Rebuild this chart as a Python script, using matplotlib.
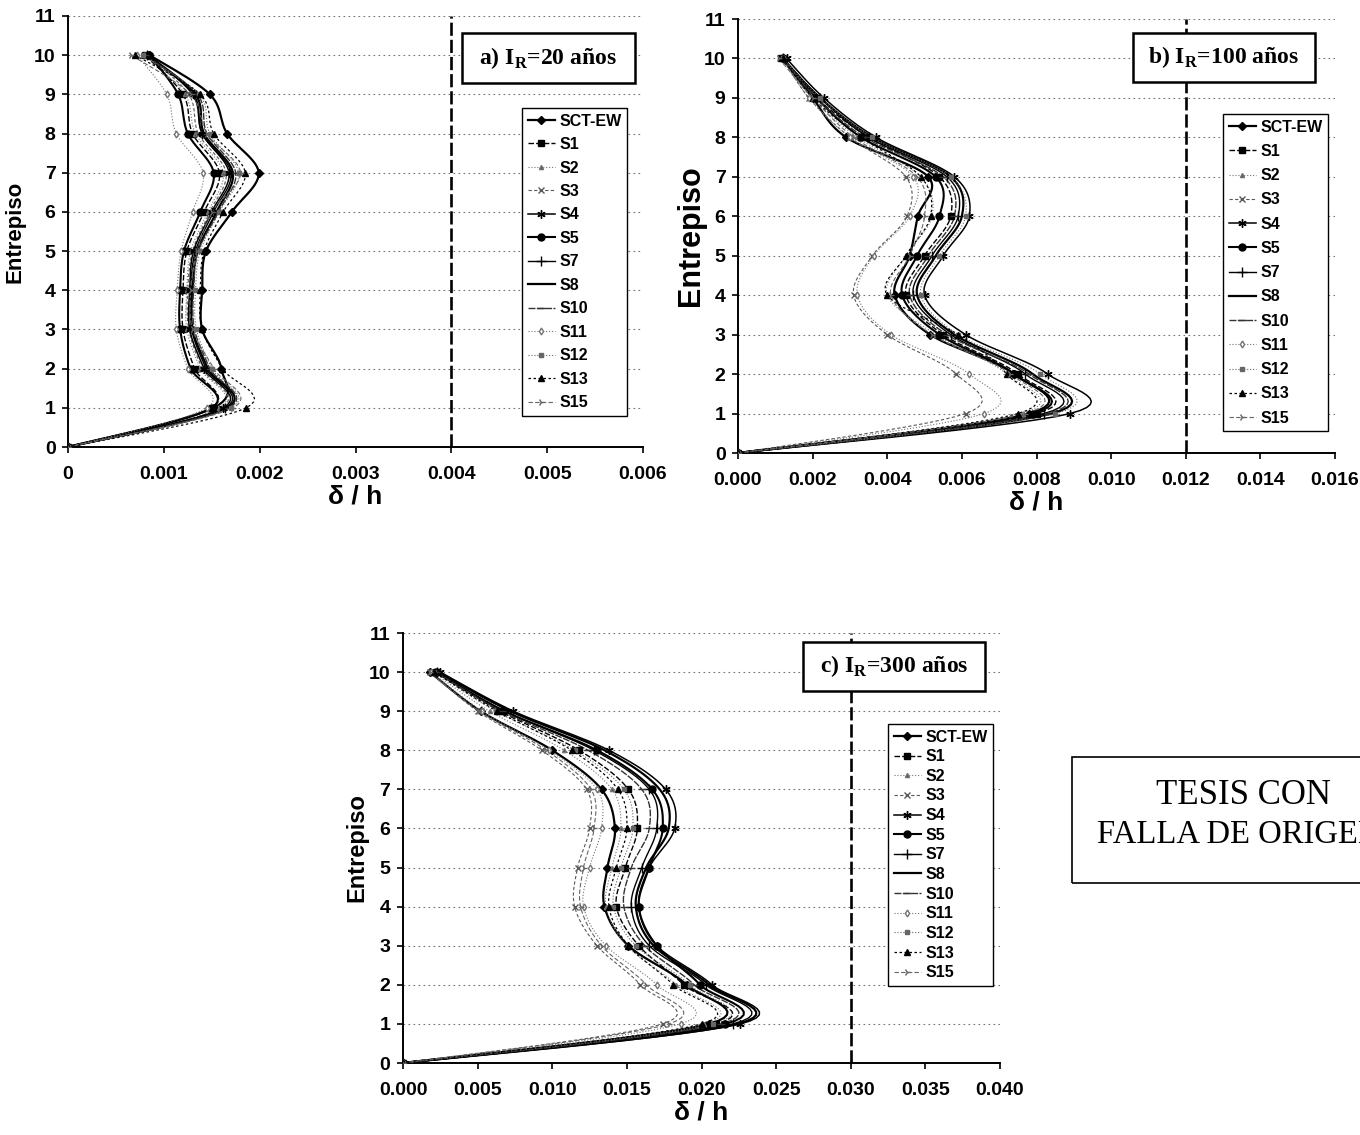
import numpy as np
import matplotlib
matplotlib.use("Agg")
import matplotlib.pyplot as plt
from matplotlib.patches import Rectangle
from matplotlib.lines import Line2D
from matplotlib.font_manager import FontProperties

W, H = 1360, 1135

series_names = ["SCT-EW", "S1", "S2", "S3", "S4", "S5", "S7", "S8",
                "S10", "S11", "S12", "S13", "S15"]
storeys = [0, 1, 2, 3, 4, 5, 6, 7, 8, 9, 10]
yticks = [0, 1, 2, 3, 4, 5, 6, 7, 8, 9, 10, 11]

# ---- a) IR = 20 años : drift ratio per storey (0..10)
a_SCT_EW = [0, 0.00152, 0.00160, 0.00140, 0.00140, 0.00144, 0.00171, 0.00199, 0.00166, 0.00148, 0.00085]
a_S1 = [0, 0.00150, 0.00132, 0.00120, 0.00120, 0.00124, 0.00142, 0.00158, 0.00130, 0.00120, 0.00080]
a_S2 = [0, 0.00158, 0.00138, 0.00124, 0.00124, 0.00128, 0.00146, 0.00162, 0.00133, 0.00122, 0.00080]
a_S3 = [0, 0.00160, 0.00140, 0.00126, 0.00125, 0.00130, 0.00148, 0.00165, 0.00136, 0.00126, 0.00082]
a_S4 = [0, 0.00162, 0.00142, 0.00127, 0.00127, 0.00131, 0.00150, 0.00168, 0.00140, 0.00130, 0.00084]
a_S5 = [0, 0.00150, 0.00128, 0.00117, 0.00117, 0.00121, 0.00138, 0.00152, 0.00125, 0.00115, 0.00085]
a_S7 = [0, 0.00164, 0.00144, 0.00129, 0.00128, 0.00133, 0.00152, 0.00170, 0.00140, 0.00131, 0.00082]
a_S8 = [0, 0.00166, 0.00146, 0.00130, 0.00130, 0.00135, 0.00155, 0.00172, 0.00142, 0.00133, 0.00083]
a_S10 = [0, 0.00168, 0.00148, 0.00132, 0.00131, 0.00136, 0.00157, 0.00175, 0.00145, 0.00135, 0.00080]
a_S11 = [0, 0.00145, 0.00125, 0.00113, 0.00114, 0.00118, 0.00130, 0.00141, 0.00113, 0.00103, 0.00072]
a_S12 = [0, 0.00170, 0.00150, 0.00134, 0.00133, 0.00138, 0.00158, 0.00178, 0.00148, 0.00137, 0.00078]
a_S13 = [0, 0.00186, 0.00161, 0.00140, 0.00138, 0.00142, 0.00162, 0.00185, 0.00152, 0.00138, 0.00070]
a_S15 = [0, 0.00172, 0.00152, 0.00130, 0.00128, 0.00135, 0.00150, 0.00180, 0.00145, 0.00128, 0.00066]

# ---- b) IR = 100 años
b_SCT_EW = [0, 0.0078, 0.0074, 0.00515, 0.0042, 0.0046, 0.00482, 0.0051, 0.0029, 0.0020, 0.0012]
b_S1 = [0, 0.0080, 0.0075, 0.0055, 0.0045, 0.0050, 0.0057, 0.0054, 0.0035, 0.0021, 0.00115]
b_S2 = [0, 0.0076, 0.0072, 0.0053, 0.0040, 0.0045, 0.0052, 0.0049, 0.0032, 0.0020, 0.0012]
b_S3 = [0, 0.0061, 0.00585, 0.0040, 0.0031, 0.0036, 0.00453, 0.0045, 0.0030, 0.0019, 0.0012]
b_S4 = [0, 0.0089, 0.0083, 0.0061, 0.0050, 0.0055, 0.0062, 0.0058, 0.0037, 0.0023, 0.0013]
b_S5 = [0, 0.0079, 0.0074, 0.0054, 0.0044, 0.0048, 0.0054, 0.0053, 0.0033, 0.0021, 0.0012]
b_S7 = [0, 0.0082, 0.0077, 0.0057, 0.0047, 0.0052, 0.0059, 0.0056, 0.0035, 0.0022, 0.0012]
b_S8 = [0, 0.0084, 0.0079, 0.0058, 0.0048, 0.0053, 0.0060, 0.0057, 0.0036, 0.0022, 0.0012]
b_S10 = [0, 0.0083, 0.0078, 0.0056, 0.0046, 0.0051, 0.0058, 0.0055, 0.0034, 0.0021, 0.0012]
b_S11 = [0, 0.0066, 0.0062, 0.0041, 0.0032, 0.00364, 0.0046, 0.0047, 0.0030, 0.0019, 0.0012]
b_S12 = [0, 0.0085, 0.0081, 0.0059, 0.0049, 0.0054, 0.0061, 0.0057, 0.0036, 0.0022, 0.0012]
b_S13 = [0, 0.0075, 0.0072, 0.0059, 0.0040, 0.0045, 0.00516, 0.0049, 0.0033, 0.0020, 0.0012]
b_S15 = [0, 0.0077, 0.0073, 0.0052, 0.0041, 0.0046, 0.0050, 0.0048, 0.0031, 0.0020, 0.0011]

# ---- c) IR = 300 años
c_SCT_EW = [0, 0.0205, 0.0190, 0.0151, 0.0135, 0.0137, 0.0142, 0.0133, 0.0100, 0.0052, 0.0018]
c_S1 = [0, 0.0210, 0.0188, 0.0158, 0.0143, 0.0149, 0.0157, 0.0151, 0.0118, 0.0065, 0.0022]
c_S2 = [0, 0.0202, 0.0183, 0.0150, 0.0136, 0.0140, 0.0146, 0.0140, 0.0108, 0.0058, 0.0020]
c_S3 = [0, 0.0174, 0.0159, 0.0130, 0.0115, 0.0117, 0.0125, 0.0123, 0.0093, 0.0050, 0.0018]
c_S4 = [0, 0.0226, 0.0207, 0.0170, 0.0158, 0.0165, 0.0182, 0.0176, 0.0138, 0.0074, 0.0025]
c_S5 = [0, 0.0216, 0.0199, 0.0170, 0.0158, 0.0165, 0.0174, 0.0167, 0.0130, 0.0068, 0.0022]
c_S7 = [0, 0.0221, 0.0203, 0.0165, 0.0153, 0.0160, 0.0170, 0.0165, 0.0128, 0.0068, 0.0023]
c_S8 = [0, 0.0224, 0.0205, 0.0168, 0.0156, 0.0163, 0.0178, 0.0172, 0.0135, 0.0072, 0.0024]
c_S10 = [0, 0.0213, 0.0195, 0.0162, 0.0148, 0.0153, 0.0165, 0.0160, 0.0124, 0.0066, 0.0022]
c_S11 = [0, 0.0186, 0.0170, 0.0136, 0.0121, 0.0125, 0.0133, 0.0130, 0.0098, 0.0053, 0.0019]
c_S12 = [0, 0.0208, 0.0192, 0.0156, 0.0141, 0.0146, 0.0154, 0.0148, 0.0115, 0.0062, 0.0021]
c_S13 = [0, 0.0200, 0.0181, 0.0151, 0.0138, 0.0143, 0.0150, 0.0144, 0.0113, 0.0063, 0.0021]
c_S15 = [0, 0.0178, 0.0163, 0.0133, 0.0119, 0.0121, 0.0128, 0.0126, 0.0096, 0.0051, 0.0018]

a_xticks = [0, 0.001, 0.002, 0.003, 0.004, 0.005, 0.006]
a_xlabels = ["0", "0.001", "0.002", "0.003", "0.004", "0.005", "0.006"]
b_xticks = [0, 0.002, 0.004, 0.006, 0.008, 0.010, 0.012, 0.014, 0.016]
b_xlabels = ["0.000", "0.002", "0.004", "0.006", "0.008", "0.010", "0.012", "0.014", "0.016"]
c_xticks = [0, 0.005, 0.010, 0.015, 0.020, 0.025, 0.030, 0.035, 0.040]
c_xlabels = ["0.000", "0.005", "0.010", "0.015", "0.020", "0.025", "0.030", "0.035", "0.040"]

limit_a = 0.004
limit_b = 0.012
limit_c = 0.030

title_a = "a) I$_\\mathregular{R}$=20 años"
title_b = "b) I$_\\mathregular{R}$=100 años"
title_c = "c) I$_\\mathregular{R}$=300 años"

panel_a = [a_SCT_EW, a_S1, a_S2, a_S3, a_S4, a_S5, a_S7, a_S8, a_S10, a_S11, a_S12, a_S13, a_S15]
panel_b = [b_SCT_EW, b_S1, b_S2, b_S3, b_S4, b_S5, b_S7, b_S8, b_S10, b_S11, b_S12, b_S13, b_S15]
panel_c = [c_SCT_EW, c_S1, c_S2, c_S3, c_S4, c_S5, c_S7, c_S8, c_S10, c_S11, c_S12, c_S13, c_S15]

# line / marker look of each record
styles = [
    dict(color="black", lw=1.6, ls="-", marker="D", ms=4.5, mfc="black"),
    dict(color="black", lw=1.0, ls=(0, (4, 1.5)), marker="s", ms=4.5, mfc="black"),
    dict(color="0.45", lw=0.8, ls=":", marker="^", ms=3, mfc="0.3"),
    dict(color="0.35", lw=0.8, ls=(0, (3, 2)), marker="x", ms=4.5, mfc="0.35"),
    dict(color="black", lw=1.1, ls="-", marker=(6, 2, 0), ms=6, mfc="black"),
    dict(color="black", lw=1.5, ls="-", marker="o", ms=5, mfc="black"),
    dict(color="black", lw=1.0, ls="-", marker="+", ms=7, mfc="black"),
    dict(color="black", lw=1.6, ls="-", marker="None", ms=0, mfc="black"),
    dict(color="0.2", lw=1.0, ls=(0, (5, 1)), marker="_", ms=6, mfc="0.2"),
    dict(color="0.45", lw=0.8, ls=":", marker="d", ms=3.5, mfc="white"),
    dict(color="0.4", lw=0.8, ls=":", marker="s", ms=3, mfc="0.4"),
    dict(color="black", lw=0.9, ls=(0, (2, 2)), marker="^", ms=5, mfc="black"),
    dict(color="0.4", lw=0.8, ls=(0, (4, 2)), marker="4", ms=5, mfc="0.4"),
]

SANS = "Liberation Sans"
SERIF = "Liberation Serif"


def smooth(x, y, n=14):
    """Bezier smoothing through the points (spreadsheet style)."""
    P = np.column_stack([x, y]).astype(float)
    out = []
    for i in range(len(P) - 1):
        p0 = P[i - 1] if i > 0 else P[i]
        p1, p2 = P[i], P[i + 1]
        p3 = P[i + 2] if i + 2 < len(P) else P[i + 1]
        c1 = p1 + (p2 - p0) / 6.0
        c2 = p2 - (p3 - p1) / 6.0
        t = np.linspace(0, 1, n)[:, None]
        seg = (1 - t) ** 3 * p1 + 3 * (1 - t) ** 2 * t * c1 + 3 * (1 - t) * t ** 2 * c2 + t ** 3 * p2
        out.append(seg if i == 0 else seg[1:])
    pts = np.vstack(out)
    return pts[:, 0], pts[:, 1]


def px_rect(x0, y0, x1, y1):
    return [x0 / W, 1 - y1 / H, (x1 - x0) / W, (y1 - y0) / H]


fig = plt.figure(figsize=(W / 100, H / 100), dpi=100)
fig.patch.set_facecolor("white")

panels = [
    dict(data=panel_a, rect=px_rect(68, 16, 643, 447), xmax=0.006, xt=a_xticks, xl=a_xlabels,
         lim=limit_a, ylab_size=16, ylab_x=(26 - 68) / 575,
         legend=(522, 108), lspacing=0.53,
         tbox=(462, 33, 635, 83), title=title_a),
    dict(data=panel_b, rect=px_rect(738, 19, 1335, 453), xmax=0.016, xt=b_xticks, xl=b_xlabels,
         lim=limit_b, ylab_size=22, ylab_x=(706 - 738) / 597,
         legend=(1223, 114), lspacing=0.58,
         tbox=(1133, 33, 1315, 82), title=title_b),
    dict(data=panel_c, rect=px_rect(403, 633, 1000, 1063), xmax=0.040, xt=c_xticks, xl=c_xlabels,
         lim=limit_c, ylab_size=17, ylab_x=(368 - 403) / 597,
         legend=(888, 724), lspacing=0.29,
         tbox=(803, 642, 985, 691), title=title_c),
]

for p in panels:
    ax = fig.add_axes(p["rect"])
    ax.set_xlim(0, p["xmax"])
    ax.set_ylim(0, 11)
    for s in ["top", "right"]:
        ax.spines[s].set_visible(False)
    for s in ["left", "bottom"]:
        ax.spines[s].set_linewidth(1.4)
        ax.spines[s].set_color("black")

    # storey grid
    for lv in yticks[1:]:
        ax.axhline(lv, color="0.45", lw=0.8, ls=(0, (1.5, 3)), zorder=1)

    # drift limit
    ax.axvline(p["lim"], color="black", lw=1.9, ls=(0, (5, 1.5)), zorder=2)

    handles = []
    for vals, st in zip(p["data"], styles):
        xs, ys = smooth(vals, storeys)
        ax.plot(xs, ys, color=st["color"], lw=st["lw"], ls=st["ls"], zorder=3,
                solid_capstyle="round")
        if st["marker"] != "None":
            ax.plot(vals, storeys, ls="none", marker=st["marker"], ms=st["ms"],
                    color=st["color"], mfc=st["mfc"], mec=st["color"], mew=1.0, zorder=4)
        handles.append(Line2D([], [], color=st["color"], lw=st["lw"], ls=st["ls"],
                              marker=st["marker"], ms=st["ms"], mfc=st["mfc"],
                              mec=st["color"], mew=1.0))

    ax.set_xticks(p["xt"])
    ax.set_xticklabels(p["xl"])
    ax.set_yticks(yticks)
    ax.set_yticklabels([str(v) for v in yticks])
    ax.tick_params(axis="x", direction="out", length=4, width=1.2, pad=10)
    ax.tick_params(axis="y", direction="out", length=4, width=1.2, pad=5)
    for lab in ax.get_xticklabels() + ax.get_yticklabels():
        lab.set_fontfamily(SANS)
        lab.set_fontweight("bold")
        lab.set_fontsize(14)

    ax.set_xlabel("δ / h", fontfamily=SANS, fontweight="bold", fontsize=19, labelpad=1)
    ax.set_ylabel("Entrepiso", fontfamily=SANS, fontweight="bold", fontsize=p["ylab_size"])
    ax.yaxis.set_label_coords(p["ylab_x"], 0.5)

    lx, ly = p["legend"]
    leg = ax.legend(handles, series_names, loc="upper left",
                    bbox_to_anchor=(lx / W, 1 - ly / H), bbox_transform=fig.transFigure,
                    frameon=True, fancybox=False, edgecolor="black", framealpha=1,
                    prop=FontProperties(family=SANS, weight="bold", size=11.5),
                    borderpad=0.35, labelspacing=p["lspacing"], handlelength=1.7,
                    handletextpad=0.3, borderaxespad=0)
    leg.get_frame().set_linewidth(1.0)
    leg.set_zorder(10)

    # title box
    x0, y0, x1, y1 = p["tbox"]
    fig.add_artist(Rectangle((x0 / W, 1 - y1 / H), (x1 - x0) / W, (y1 - y0) / H,
                             transform=fig.transFigure, facecolor="white",
                             edgecolor="black", lw=1.8, zorder=20))
    fig.text((x0 + x1) / 2 / W, 1 - (y0 + y1) / 2 / H, p["title"], ha="center", va="center",
             fontfamily=SERIF, fontweight="bold", fontsize=17, zorder=21)

# thesis stamp
fig.add_artist(Rectangle((1072 / W, 1 - 883 / H), 400 / W, 126 / H,
                         transform=fig.transFigure, facecolor="none",
                         edgecolor="black", lw=1.2, zorder=20))
fig.text(1243 / W, 1 - 795 / H, "TESIS CON", ha="center", va="center",
         fontfamily=SERIF, fontsize=25, zorder=21)
fig.text(1097 / W, 1 - 835 / H, "FALLA DE ORIGEN", ha="left", va="center",
         fontfamily=SERIF, fontsize=23.5, zorder=21)

fig.savefig("out.png", dpi=100, facecolor="white")
